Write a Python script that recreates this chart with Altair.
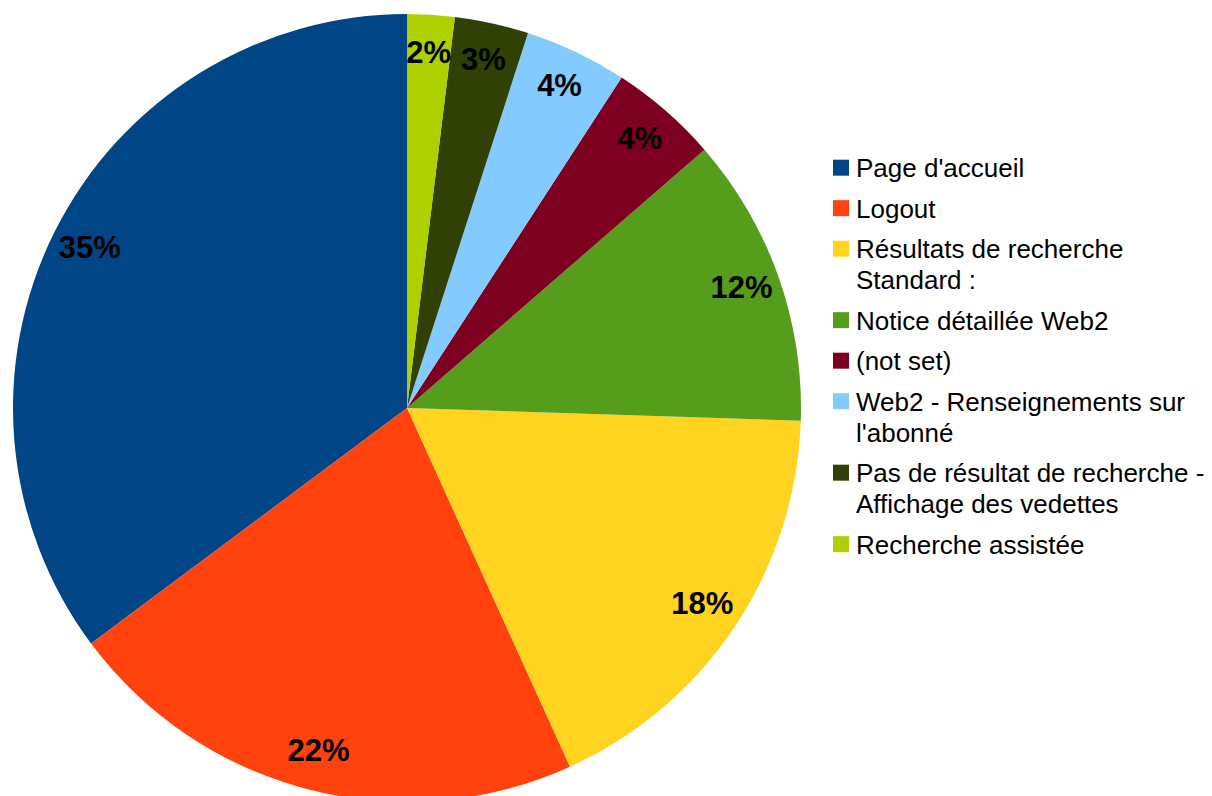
import altair as alt
import pandas as pd

categories = [
    "Page d'accueil",
    "Logout",
    "Résultats de recherche\nStandard :",
    "Notice détaillée Web2",
    "(not set)",
    "Web2 - Renseignements sur\nl'abonné",
    "Pas de résultat de recherche -\nAffichage des vedettes",
    "Recherche assistée",
]
values = [35.2, 21.6, 17.7, 11.9, 4.45, 4.2, 3.03, 1.94]
labels = ["35%", "22%", "18%", "12%", "4%", "4%", "3%", "2%"]
colors = ["#004586", "#ff420e", "#ffd320", "#579d1c", "#7e0021", "#83caff", "#314004", "#aecf00"]

df = pd.DataFrame({
    "category": categories,
    "value": values,
    "label": labels,
    "idx": list(range(len(categories))),
})

FONT = "Liberation Sans"

# square legend symbol, drawn slightly below the entry anchor so that it
# lines up with the first line of a top-aligned label
SYMBOL = "M-1,0.46H1V2.46H-1Z"

color = alt.Color(
    "category:N",
    scale=alt.Scale(domain=categories, range=colors),
    legend=alt.Legend(
        title=None,
        orient="none",
        legendX=820,
        legendY=135,
        symbolType=SYMBOL,
        symbolSize=256,
        symbolStrokeWidth=0,
        labelFont=FONT,
        labelFontSize=26,
        labelColor="#000000",
        labelLimit=400,
        labelOffset=2,
        labelBaseline="top",
        rowPadding=1.5,
        labelExpr="split(datum.label, '\\n')",
    ),
)

base = alt.Chart(df).encode(
    theta=alt.Theta("value:Q", stack=True),
    order=alt.Order("idx:Q", sort="descending"),
)

pie = base.mark_arc(outerRadius=394, stroke=None).encode(
    color=color,
    x=alt.value(399),
    y=alt.value(400),
)

text = base.mark_text(
    radius=355,
    font=FONT,
    fontSize=31,
    fontWeight="bold",
    color="#000000",
).encode(
    text="label:N",
    x=alt.value(399),
    y=alt.value(400),
)

chart = (
    alt.layer(pie, text)
    .properties(width=1196, height=788, padding=0, autosize=alt.AutoSizeParams(type="none"))
    .configure(
        background="#ffffff",
        style={"guide-label": {"lineHeight": 31}},
        view=alt.ViewConfig(strokeWidth=0, strokeOpacity=0),
    )
)

chart.save("out.html", embed_options={"renderer": "svg", "actions": False})
